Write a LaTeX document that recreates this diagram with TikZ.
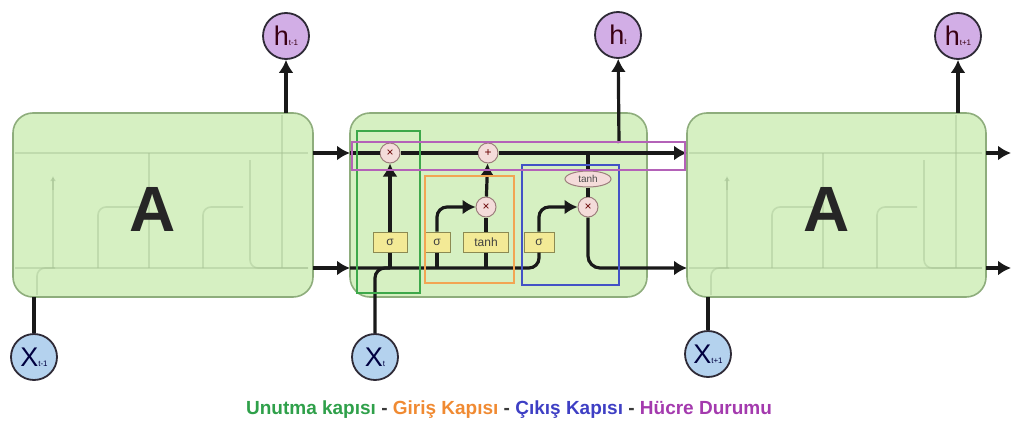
\documentclass[tikz,border=0pt]{standalone}
\usepackage{fontspec}
\setmainfont{Liberation Sans}
\usetikzlibrary{arrows.meta,shapes.geometric}

\definecolor{cellfill}{HTML}{D6F0C2}
\definecolor{celldraw}{HTML}{8EAD7C}
\definecolor{hfill}{HTML}{D2AEE6}
\definecolor{xfill}{HTML}{B4D2EE}
\definecolor{ringdraw}{HTML}{2E2A36}
\definecolor{opfill}{HTML}{F4DCDA}
\definecolor{opdraw}{HTML}{9C7E7C}
\definecolor{gatefill}{HTML}{F3EA96}
\definecolor{gatedraw}{HTML}{8C8A52}
\definecolor{ghost}{HTML}{A6C294}
\definecolor{frgreen}{HTML}{3DA84A}
\definecolor{frorange}{HTML}{F2A553}
\definecolor{frblue}{HTML}{4352C6}
\definecolor{frpink}{HTML}{B462B8}
\definecolor{capgreen}{HTML}{2FA04A}
\definecolor{caporange}{HTML}{F08A32}
\definecolor{capblue}{HTML}{3E3FC4}
\definecolor{cappurple}{HTML}{A43AAE}
\definecolor{capdash}{HTML}{3A3A3A}

\newcommand\circlabel[2]{{\fontsize{27}{27}\selectfont #1}{\fontsize{8}{8}\selectfont #2}}

\tikzset{
  cellbox/.style={draw=celldraw, fill=cellfill, line width=1.6pt, rounded corners=20pt,
    minimum height=184pt, inner sep=0pt, outer sep=0pt},
  bigletter/.style={font=\bfseries\fontsize{64}{64}\selectfont, text=black!85, inner sep=0pt},
  hring/.style={circle, draw=ringdraw, fill=hfill, line width=1.8pt, minimum size=46pt,
    inner sep=0pt, text=black!70!purple},
  xring/.style={circle, draw=ringdraw, fill=xfill, line width=1.8pt, minimum size=46pt,
    inner sep=0pt, text=black!75!blue},
  opnode/.style={circle, draw=opdraw, fill=opfill, line width=1pt, minimum size=20pt,
    inner sep=0pt, font=\fontsize{12}{12}\selectfont, text=black!60!red},
  tanhnode/.style={ellipse, draw=opdraw, fill=opfill, line width=1pt, minimum width=46pt,
    minimum height=16pt, inner sep=0pt, font=\fontsize{10}{10}\selectfont, text=black!70},
  gatebox/.style={draw=gatedraw, fill=gatefill, line width=1pt, minimum height=20pt,
    inner sep=0pt, font=\fontsize{12}{12}\selectfont, text=black!75},
  wire/.style={line width=3.2pt, black!90},
  arr/.style={wire, -{Latex[length=13pt,width=15pt]}},
  ghostwire/.style={line width=1.6pt, ghost, opacity=0.45},
  frame/.style={line width=2.6pt}
}

\begin{document}
\begin{tikzpicture}[x=1pt,y=-1pt]
\useasboundingbox (0,0) rectangle (1011,441);

% the three repeated cells
\node[cellbox, minimum width=300pt] (cellL) at (163,205) {};
\node[cellbox, minimum width=297pt] (cellM) at (498.5,205) {};
\node[cellbox, minimum width=299pt] (cellR) at (836.5,205) {};

% faint inner structure of the folded cells
\foreach \dx in {-337,337}{
  \begin{scope}[shift={(\dx,0)}]
    \draw[ghostwire] (352,153) -- (645,153);
    \draw[ghostwire] (352,268) -- (645,268);
    \draw[ghostwire] (390,268) -- (390,178);
    \draw[ghostwire, -{Latex[length=5pt,width=6pt]}] (390,190) -- (390,176);
    \draw[ghostwire, rounded corners=8pt] (435,268) |- (478,207);
    \draw[ghostwire] (486,268) -- (486,153);
    \draw[ghostwire, rounded corners=8pt] (540,268) |- (580,207);
    \draw[ghostwire, rounded corners=8pt] (587,160) -- (587,268) -- (645,268);
    \draw[ghostwire] (619,115) -- (619,268);
    \draw[ghostwire, rounded corners=8pt] (374,295) -- (374,268) -- (392,268);
  \end{scope}
}

\node[bigletter] (aL) at (153,209) {A};
\node[bigletter] (aR) at (827,209) {A};

% inputs and outputs
\node[hring] (hL) at (286,36) {\circlabel{h}{t-1}};
\node[hring] (hM) at (618,35) {\circlabel{h}{t}};
\node[hring] (hR) at (958,36) {\circlabel{h}{t+1}};
\node[xring] (xL) at (34,357) {\circlabel{X}{t-1}};
\node[xring] (xM) at (375,357) {\circlabel{X}{t}};
\node[xring] (xR) at (708,354) {\circlabel{X}{t+1}};

% operators and gates of the unrolled cell
\node[opnode] (mulF) at (390,153) {×};
\node[opnode] (addC) at (488,153) {+};
\node[opnode] (mulI) at (486,207) {×};
\node[opnode] (mulO) at (588,207) {×};
\node[tanhnode] (tanhO) at (588,179) {tanh};
\node[gatebox, minimum width=34pt] (sig1) at (390,242) {σ};
\node[gatebox, minimum width=26pt] (sig2) at (437,242) {σ};
\node[gatebox, minimum width=45pt] (tanhI) at (486,242) {tanh};
\node[gatebox, minimum width=30pt] (sig3) at (539,242) {σ};

\coordinate (topM) at (619,143);
\coordinate (outTop) at (1011,153);
\coordinate (outBot) at (1011,268);

% connectors of the left cell
\draw[arr] (cellL.north -| hL) -- (hL);
\draw[wire] (xL) -- (cellL.south -| xL);
\draw[arr] (cellL.east |- mulF) -- (cellM.west |- mulF);
\draw[arr] (cellL.east |- 0,268) -- (cellM.west |- 0,268);

% cell state
\draw[wire] (cellM.west |- mulF) -- (mulF) -- (addC);
\draw[arr] (addC) -- (cellR.west |- addC);

% forget gate
\draw[wire] (sig1.south) -- (sig1.south |- 0,268);
\draw[arr] (sig1) -- (mulF);

% hidden state path along the bottom, feeding the output gate
\draw[wire, rounded corners=10pt] (cellM.west |- 0,268) -- (sig3.south |- 0,268) -- (sig3.south);
\draw[wire, rounded corners=10pt] (xM) -- (xM |- 0,268) -- (sig1.south |- 0,268);

% input gate
\draw[wire] (sig2.south) -- (sig2.south |- 0,268);
\draw[wire] (tanhI.south) -- (tanhI.south |- 0,268);
\draw[arr, rounded corners=10pt] (sig2.north) |- (mulI);
\draw[wire] (tanhI) -- (mulI);
\draw[arr] (mulI) -- (addC);

% output gate
\draw[arr, rounded corners=10pt] (sig3.north) |- (mulO);
\draw[wire] (tanhO.north |- addC) -- (tanhO);
\draw[wire] (tanhO) -- (mulO);
\draw[arr, rounded corners=12pt] (mulO) |- (cellR.west |- 0,268);
\draw[arr] (topM) -- (hM);

% connectors of the right cell
\draw[wire] (xR) -- (cellR.south -| xR);
\draw[arr] (cellR.north -| hR) -- (hR);
\draw[arr] (cellR.east |- outTop) -- (outTop);
\draw[arr] (cellR.east |- outBot) -- (outBot);

% coloured frames around the gates
\draw[frame, draw=frgreen] (357,131) rectangle (420,293);
\draw[frame, draw=frorange] (425,176) rectangle (514,283);
\draw[frame, draw=frblue] (522,165) rectangle (619,285);
\draw[frame, draw=frpink] (352,142) rectangle (685,170);

% caption
\node[font=\bfseries\fontsize{19}{19}\selectfont] (caption) at (509,410)
  {\textcolor{capgreen}{Unutma kapısı} \textcolor{capdash}{-} \textcolor{caporange}{Giriş Kapısı}
   \textcolor{capdash}{-} \textcolor{capblue}{Çıkış Kapısı} \textcolor{capdash}{-}
   \textcolor{cappurple}{Hücre Durumu}};
\end{tikzpicture}
\end{document}
